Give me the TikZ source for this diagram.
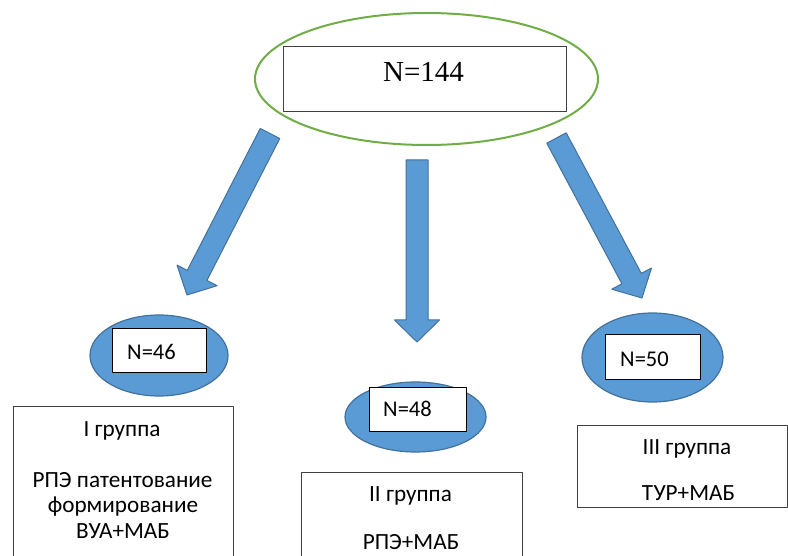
\documentclass[tikz,border=0pt]{standalone}
\usepackage{fontspec}
\setmainfont{Carlito}
\newfontfamily\timesfont{Liberation Serif}
\usetikzlibrary{shapes.geometric, calc}
\definecolor{arrowblue}{HTML}{5B9BD5}
\definecolor{arrowline}{HTML}{41719C}
\definecolor{ringgreen}{HTML}{70AD47}
\definecolor{boxline}{HTML}{404040}

% block arrow from tail coordinate to tip coordinate
\newcommand{\blockarrow}[2]{%
  \draw[fatarrow] let \p1=($(#2)-(#1)$), \n1={atan2(\y1,\x1)}, \n2={veclen(\x1,\y1)} in
    [shift={(#1)}, rotate=\n1]
    (0,11) -- (\n2-22,11) -- (\n2-22,22.5) -- (\n2,0) -- (\n2-22,-22.5) -- (\n2-22,-11) -- (0,-11) -- cycle;
}

\begin{document}
\begin{tikzpicture}[
    x=1pt, y=-1pt,
    line join=round,
    fatarrow/.style={fill=arrowblue, draw=arrowline, line width=1pt},
    ring/.style={ellipse, draw=ringgreen, line width=2pt, inner sep=0pt},
    blob/.style={ellipse, fill=arrowblue, draw=arrowline, line width=1.2pt, inner sep=0pt},
    numbox/.style={rectangle, fill=white, draw=black, line width=1pt, inner sep=0pt},
    groupbox/.style={draw=boxline, line width=1pt},
    numtext/.style={font=\fontsize{22.5}{27}\selectfont, inner sep=0pt},
    grouptext/.style={font=\fontsize{23.2}{27}\selectfont, inner sep=0pt, anchor=base}
]
    \useasboundingbox (0,0) rectangle (788,556);

    % Whole sample
    \node[ring, minimum width=343pt, minimum height=132pt] (all) at (426.5,79) {};
    \node[numbox, draw=boxline, minimum width=283pt, minimum height=65pt] (allbox) at (424.5,79.5) {};
    \node[font=\timesfont\fontsize{29}{34}\selectfont, inner sep=0pt] (alltext) at (423.5,72) {N=144};

    % Arrows to the groups
    \coordinate (tailA) at (270,133.5);
    \coordinate (tipA) at (187,295);
    \coordinate (tailB) at (417,160);
    \coordinate (tipB) at (417,342);
    \coordinate (tailC) at (556.5,138);
    \coordinate (tipC) at (642,298);
    \blockarrow{tailA}{tipA}
    \blockarrow{tailB}{tipB}
    \blockarrow{tailC}{tipC}

    % Group I
    \node[blob, minimum width=138pt, minimum height=81pt] (blobA) at (159,355.5) {};
    \node[numbox, minimum width=94pt, minimum height=44pt] (numA) at (159,351) {};
    \node[numtext] (nA) at (151.5,351.5) {N=46};
    \draw[groupbox] (13,570) -- (13,406) -- (233,406) -- (233,570);
    \node[grouptext] (titleA) at (122,436) {I группа};
    \node[grouptext] (lineA1) at (122.5,487.3) {РПЭ патентование};
    \node[grouptext] (lineA2) at (123,512) {формирование};
    \node[grouptext] (lineA3) at (123,538.3) {ВУА+МАБ};

    % Group II
    \node[blob, minimum width=141pt, minimum height=70pt] (blobB) at (415.5,417) {};
    \node[numbox, minimum width=97pt, minimum height=44pt] (numB) at (417.5,409) {};
    \node[numtext] (nB) at (407.5,409) {N=48};
    \draw[groupbox] (301,570) -- (301,472) -- (522,472) -- (522,570);
    \node[grouptext] (titleB) at (410.5,501) {II группа};
    \node[grouptext] (lineB1) at (411,549) {РПЭ+МАБ};

    % Group III
    \node[blob, minimum width=141pt, minimum height=89pt] (blobC) at (652.5,357.5) {};
    \node[numbox, minimum width=95pt, minimum height=45pt] (numC) at (652.5,357.5) {};
    \node[numtext] (nC) at (644.5,359) {N=50};
    \draw[groupbox] (577,425) rectangle (787,507);
    \node[grouptext] (titleC) at (687,454) {III группа};
    \node[grouptext] (lineC1) at (688.5,500.7) {ТУР+МАБ};

\end{tikzpicture}
\end{document}
